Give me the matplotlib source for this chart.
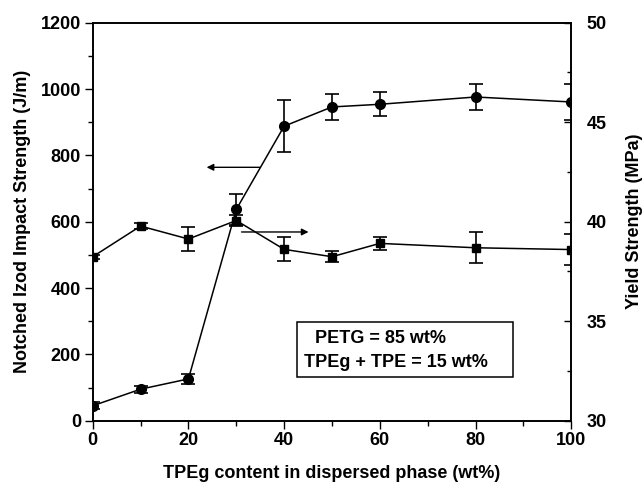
import numpy as np
import matplotlib.pyplot as plt
from matplotlib.patches import Rectangle

plt.rcParams['font.family'] = 'Liberation Sans'
plt.rcParams['font.weight'] = 'bold'

# data
tpeg = [0, 10, 20, 30, 40, 50, 60, 80, 100]
impact = [45, 95, 126, 637, 888, 946, 954, 976, 961]   # J/m
impact_err = [10, 10, 15, 46, 78, 39, 36, 40, 53]
yield_str = [38.24, 39.78, 39.13, 40.06, 38.61, 38.24, 38.91, 38.69, 38.6]   # MPa
yield_err = [0.1, 0.17, 0.61, 0.3, 0.61, 0.28, 0.31, 0.78, 0.78]

fig, ax = plt.subplots(figsize=(6.44, 4.83), dpi=100)
fig.subplots_adjust(left=0.144, right=0.887, bottom=0.129, top=0.953)
ax2 = ax.twinx()

ax.errorbar(tpeg, impact, yerr=impact_err, fmt='-o', color='k', ms=7,
            lw=1.1, elinewidth=1.2, capsize=5, capthick=1.2)
ax2.errorbar(tpeg, yield_str, yerr=yield_err, fmt='-s', color='k', ms=5.5,
             lw=1.1, elinewidth=1.2, capsize=5, capthick=1.2)

ax.set_xlim(0, 100)
ax.set_ylim(0, 1200)
ax2.set_ylim(30, 50)
ax.set_xticks(np.arange(0, 101, 20))
ax.set_xticks(np.arange(10, 100, 20), minor=True)
ax.set_yticks(np.arange(0, 1201, 200))
ax.set_yticks(np.arange(100, 1200, 200), minor=True)
ax2.set_yticks(np.arange(30, 51, 5))
ax2.set_yticks(np.arange(32.5, 50, 5), minor=True)

ax.tick_params(which='major', direction='out', length=5.5, width=1, labelsize=13, pad=3)
ax.tick_params(which='minor', direction='out', length=3.5, width=1)
ax2.tick_params(which='major', direction='in', length=5, width=1, labelsize=13, pad=11)
ax2.tick_params(which='minor', direction='in', length=3, width=1)
for a in (ax, ax2):
    for s in a.spines.values():
        s.set_linewidth(1.2)

ax.set_xlabel('TPEg content in dispersed phase (wt%)', fontsize=13, fontweight='bold')
ax.set_ylabel('Notched Izod Impact Strength (J/m)', fontsize=13, fontweight='bold')
ax2.set_ylabel('Yield Strength (MPa)', fontsize=13, fontweight='bold')
ax.xaxis.set_label_coords(0.5, -0.111)
ax.yaxis.set_label_coords(-0.129, 0.5)
ax2.yaxis.set_label_coords(1.115, 0.5)

# arrows showing which axis each curve belongs to
arrow = dict(arrowstyle='-|>', color='k', lw=1, mutation_scale=10, shrinkA=0, shrinkB=0)
ax.annotate('', xy=(23.8, 764), xytext=(35, 764), arrowprops=arrow)
ax.annotate('', xy=(45.1, 569), xytext=(31.1, 569), arrowprops=arrow)

# composition box
ax.add_patch(Rectangle((42.7, 132), 45.2, 166, fill=False, lw=1.1, color='k'))
ax.text(46.5, 249, 'PETG = 85 wt%', fontsize=13, fontweight='bold', va='center')
ax.text(44.2, 174, 'TPEg + TPE = 15 wt%', fontsize=13, fontweight='bold', va='center')

plt.savefig('out.png', dpi=100)
